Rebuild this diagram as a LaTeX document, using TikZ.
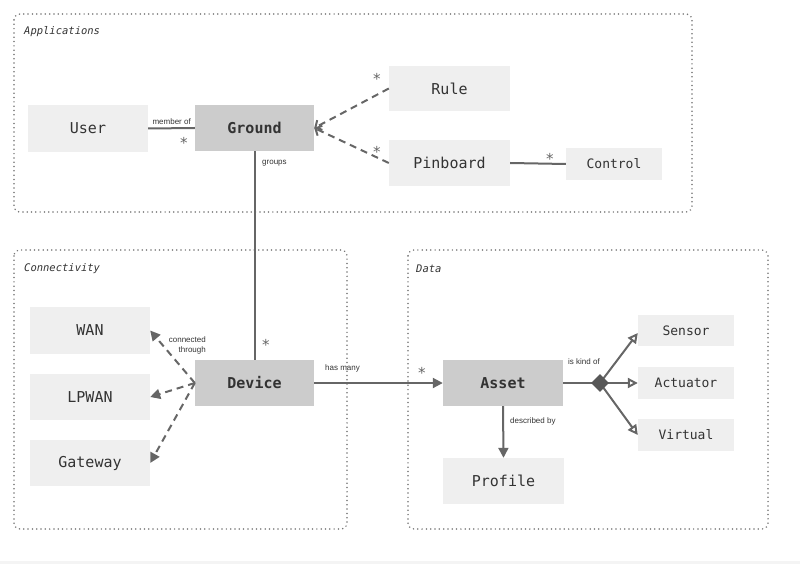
\documentclass[tikz,border=0pt]{standalone}
\usepackage{fontspec}
\setmainfont{DejaVu Sans Mono}
\newfontfamily\labfont{Liberation Sans}
\newfontfamily\monofont{DejaVu Sans Mono}
\usetikzlibrary{arrows.meta,shapes.geometric}
\definecolor{lightbox}{HTML}{EFEFEF}
\definecolor{darkbox}{HTML}{CCCCCC}
\definecolor{linec}{HTML}{666666}
\definecolor{textc}{HTML}{333333}
\definecolor{framec}{HTML}{777777}
\definecolor{bandc}{HTML}{F4F4F4}
\begin{document}
\begin{tikzpicture}[x=1pt,y=-1pt,
  lbox/.style={fill=lightbox,draw=none,text=textc,font=\monofont\fontsize{15}{18}\selectfont},
  sbox/.style={fill=lightbox,draw=none,text=textc,font=\monofont\fontsize{13}{16}\selectfont},
  dbox/.style={fill=darkbox,draw=none,text=textc,font=\monofont\bfseries\fontsize{15}{18}\selectfont},
  frame/.style={draw=framec,line width=1.7pt,dash pattern=on 0.01pt off 4.3pt,line cap=round,rounded corners=6pt},
  ftitle/.style={anchor=west,text=textc,font=\monofont\itshape\fontsize{10.5}{12}\selectfont,inner sep=0pt},
  conn/.style={draw=linec,line width=2pt},
  dconn/.style={draw=linec,line width=2pt,dash pattern=on 7pt off 5pt},
  lab/.style={text=textc,font=\labfont\fontsize{8}{9.5}\selectfont,inner sep=0pt},
  star/.style={text=linec,font=\monofont\fontsize{15}{15}\selectfont,inner sep=0pt},
  filltip/.style={-{Triangle[length=10pt,width=10pt]}},
  opentip/.style={-{Triangle[open,length=10pt,width=10pt,fill=white]}},
  barbtip/.style={-{Straight Barb[length=5pt,width=11pt,line width=2pt]}}
]
\useasboundingbox (0,0) rectangle (800,564);
\fill[bandc] (0,561) rectangle (800,564);

% frames
\draw[frame] (14,14) rectangle (692,212);
\draw[frame] (14,250) rectangle (347,529);
\draw[frame] (408,250) rectangle (768,529);
\node[ftitle] (tapp) at (24,32) {Applications};
\node[ftitle] (tcon) at (24,269) {Connectivity};
\node[ftitle] (tdat) at (416,269) {Data};

% boxes
\node[lbox,minimum width=120pt,minimum height=47pt] (user) at (88,128.5) {User};
\node[dbox,minimum width=119pt,minimum height=46pt] (ground) at (254.5,128) {Ground};
\node[lbox,minimum width=121pt,minimum height=45pt] (rule) at (449.5,88.5) {Rule};
\node[lbox,minimum width=121pt,minimum height=46pt] (pinboard) at (449.5,163) {Pinboard};
\node[sbox,minimum width=96pt,minimum height=32pt] (control) at (614,164) {Control};
\node[lbox,minimum width=120pt,minimum height=47pt] (wan) at (90,330.5) {WAN};
\node[lbox,minimum width=120pt,minimum height=46pt] (lpwan) at (90,397) {LPWAN};
\node[lbox,minimum width=120pt,minimum height=46pt] (gateway) at (90,463) {Gateway};
\node[dbox,minimum width=119pt,minimum height=46pt] (device) at (254.5,383) {Device};
\node[dbox,minimum width=120pt,minimum height=46pt] (asset) at (503,383) {Asset};
\node[lbox,minimum width=121pt,minimum height=46pt] (profile) at (503.5,481) {Profile};
\node[sbox,minimum width=96pt,minimum height=31pt] (sensor) at (686,330.5) {Sensor};
\node[sbox,minimum width=96pt,minimum height=32pt] (actuator) at (686,383) {Actuator};
\node[sbox,minimum width=96pt,minimum height=32pt] (virtual) at (686,435) {Virtual};
\coordinate (dia) at (600,383);

% connectors
\draw[conn] (user.east) -- (ground.west);
\draw[dconn,barbtip] (rule.west) -- (ground.east);
\draw[dconn,barbtip] (pinboard.west) -- (ground.east);
\draw[conn] (pinboard.east) -- (control.west);
\draw[conn] (ground.south) -- (device.north);
\draw[dconn,filltip] (device.west) -- (wan.east);
\draw[dconn,filltip] (device.west) -- (lpwan.east);
\draw[dconn,filltip] (device.west) -- (gateway.east);
\draw[conn,filltip] (device.east) -- (asset.west);
\draw[conn,filltip] (asset.south) -- (profile.north);
\draw[conn] (asset.east) -- (dia);
\coordinate (sensorend) at (638,333);
\draw[conn,opentip] (dia) -- (sensor.west |- sensorend);
\draw[conn,opentip] (dia) -- (actuator.west);
\draw[conn,opentip] (dia) -- (virtual.west);
\node[diamond,fill=linec!85!black,draw=none,minimum width=18pt,minimum height=18pt,inner sep=0pt] (diam) at (dia) {};

% labels
\node[lab,anchor=south east] (lmember) at (191,124.5) {member of};
\node[star] (s1) at (184,143) {*};
\node[star] (s2) at (377,79) {*};
\node[star] (s3) at (377,152) {*};
\node[star] (s4) at (550,159) {*};
\node[lab,anchor=west] (lgroups) at (262,163) {groups};
\node[star] (s5) at (266,345) {*};
\node[lab,anchor=east,align=right] (lconn) at (206,345.5) {connected\\through};
\node[lab,anchor=west] (lhas) at (325,368) {has many};
\node[star] (s6) at (422,373) {*};
\node[lab,anchor=west] (ldesc) at (510,421) {described by};
\node[lab,anchor=west] (lkind) at (568,362) {is kind of};
\end{tikzpicture}
\end{document}
